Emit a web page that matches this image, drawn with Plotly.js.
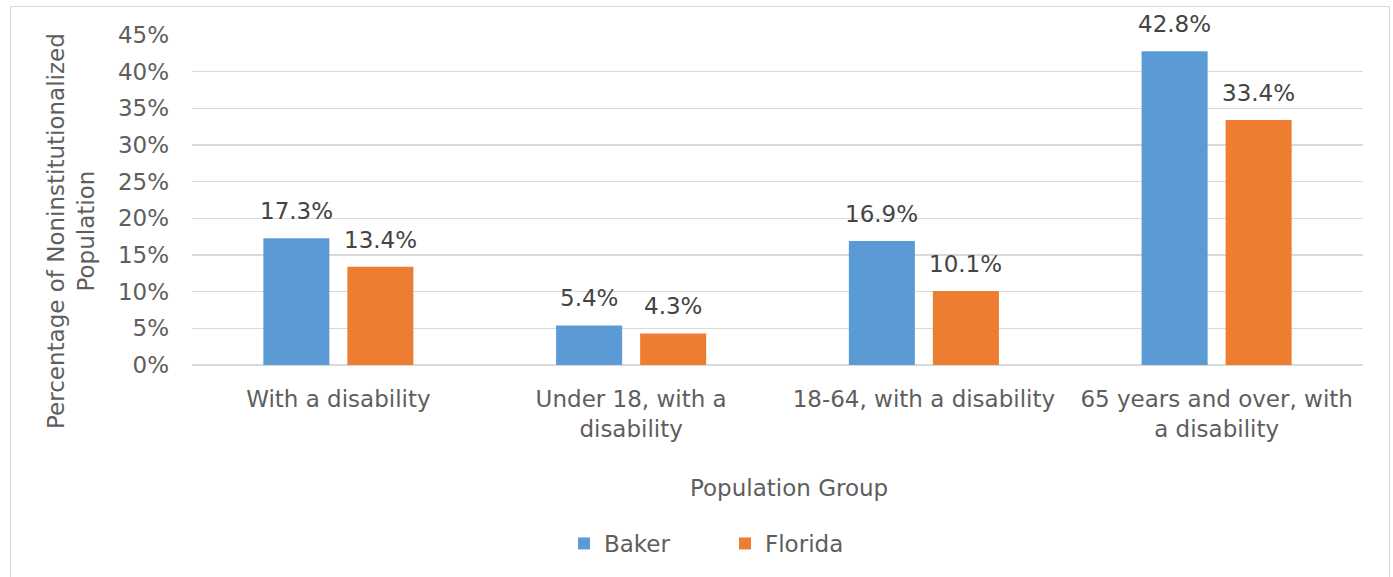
<!DOCTYPE html>
<html>
<head>
<meta charset="utf-8">
<script src="https://cdn.plot.ly/plotly-3.0.1.min.js"></script>
<style>
  html, body { margin: 0; padding: 0; background: #fff; }
  #wrap { position: relative; width: 1393px; height: 577px; overflow: hidden; }
  #chart { width: 1393px; height: 577px; }
  #frame { position: absolute; left: 10px; top: 6px; width: 1380px; height: 600px; border: 1px solid #D9D9D9; pointer-events: none; box-sizing: border-box; }
</style>
</head>
<body>
<div id="wrap">
  <div id="chart"></div>
  <div id="frame"></div>
</div>
<script>
const categories = [
  "With a disability",
  "Under 18, with a<br>disability",
  "18-64, with a disability",
  "65 years and over, with<br>a disability"
];
const bakerValues = [17.3, 5.4, 16.9, 42.8];
const floridaValues = [13.4, 4.3, 10.1, 33.4];
const seriesNames = ["Baker", "Florida"];
const yTickValues = [0, 5, 10, 15, 20, 25, 30, 35, 40, 45];
const yTickLabels = ["0%", "5%", "10%", "15%", "20%", "25%", "30%", "35%", "40%", "45%"];

const FONT = "DejaVu Sans, Liberation Sans, Arial, sans-serif";
const GRAY = "#5E5E5E";
const LABEL = "#444444";
const colors = ["#5B9BD5", "#ED7D31"];

const traces = [bakerValues, floridaValues].map((vals, i) => ({
  type: "bar",
  name: seriesNames[i],
  x: categories,
  y: vals,
  marker: { color: colors[i] },
  hoverinfo: "skip"
}));

const annotations = [];
[bakerValues, floridaValues].forEach((vals, i) => {
  vals.forEach((v, j) => {
    annotations.push({
      x: categories[j], y: v, xref: "x", yref: "y",
      text: v.toFixed(1) + "%",
      showarrow: false,
      xshift: i === 0 ? -42 : 42,
      yanchor: "bottom",
      yshift: 12,
      font: { family: FONT, size: 23, color: LABEL }
    });
  });
});
annotations.push({
  text: "Percentage of Noninstitutionalized<br>Population",
  xref: "paper", yref: "paper",
  x: (71 - 192) / 1171, y: (365 - 231) / 330,
  xanchor: "center", yanchor: "middle",
  textangle: -90, showarrow: false,
  font: { family: FONT, size: 23, color: GRAY }
});
annotations.push({
  text: "Population Group",
  xref: "paper", yref: "paper",
  x: (789 - 192) / 1171, y: (365 - 488) / 330,
  xanchor: "center", yanchor: "middle",
  showarrow: false,
  font: { family: FONT, size: 23, color: GRAY }
});

const layout = {
  width: 1393, height: 577,
  margin: { l: 192, r: 30, t: 35, b: 212, pad: 0 },
  paper_bgcolor: "#fff", plot_bgcolor: "#fff",
  barmode: "group",
  bargap: 0.426,
  bargroupgap: 0.214,
  font: { family: FONT, size: 23, color: GRAY },
  showlegend: true,
  legend: {
    orientation: "h",
    x: (564 - 192) / 1171, xanchor: "left",
    y: (365 - 543.5) / 330, yanchor: "middle",
    font: { family: FONT, size: 23, color: GRAY },
    entrywidth: 116,
    traceorder: "normal"
  },
  xaxis: {
    type: "category",
    showgrid: false, zeroline: false, showline: false,
    ticks: "",
    ticklabelstandoff: 18,
    tickfont: { family: FONT, size: 23, color: GRAY },
    fixedrange: true
  },
  yaxis: {
    range: [0, 45],
    tickvals: yTickValues,
    ticktext: yTickLabels,
    showgrid: true, gridcolor: "#D9D9D9", gridwidth: 1.5,
    zeroline: true, zerolinecolor: "#D9D9D9", zerolinewidth: 1.5,
    showline: false, ticks: "",
    ticklabelstandoff: 22,
    tickfont: { family: FONT, size: 23, color: GRAY },
    fixedrange: true
  },
  annotations: annotations
};

Plotly.newPlot("chart", traces, layout, { displayModeBar: false, staticPlot: true });
</script>
</body>
</html>
